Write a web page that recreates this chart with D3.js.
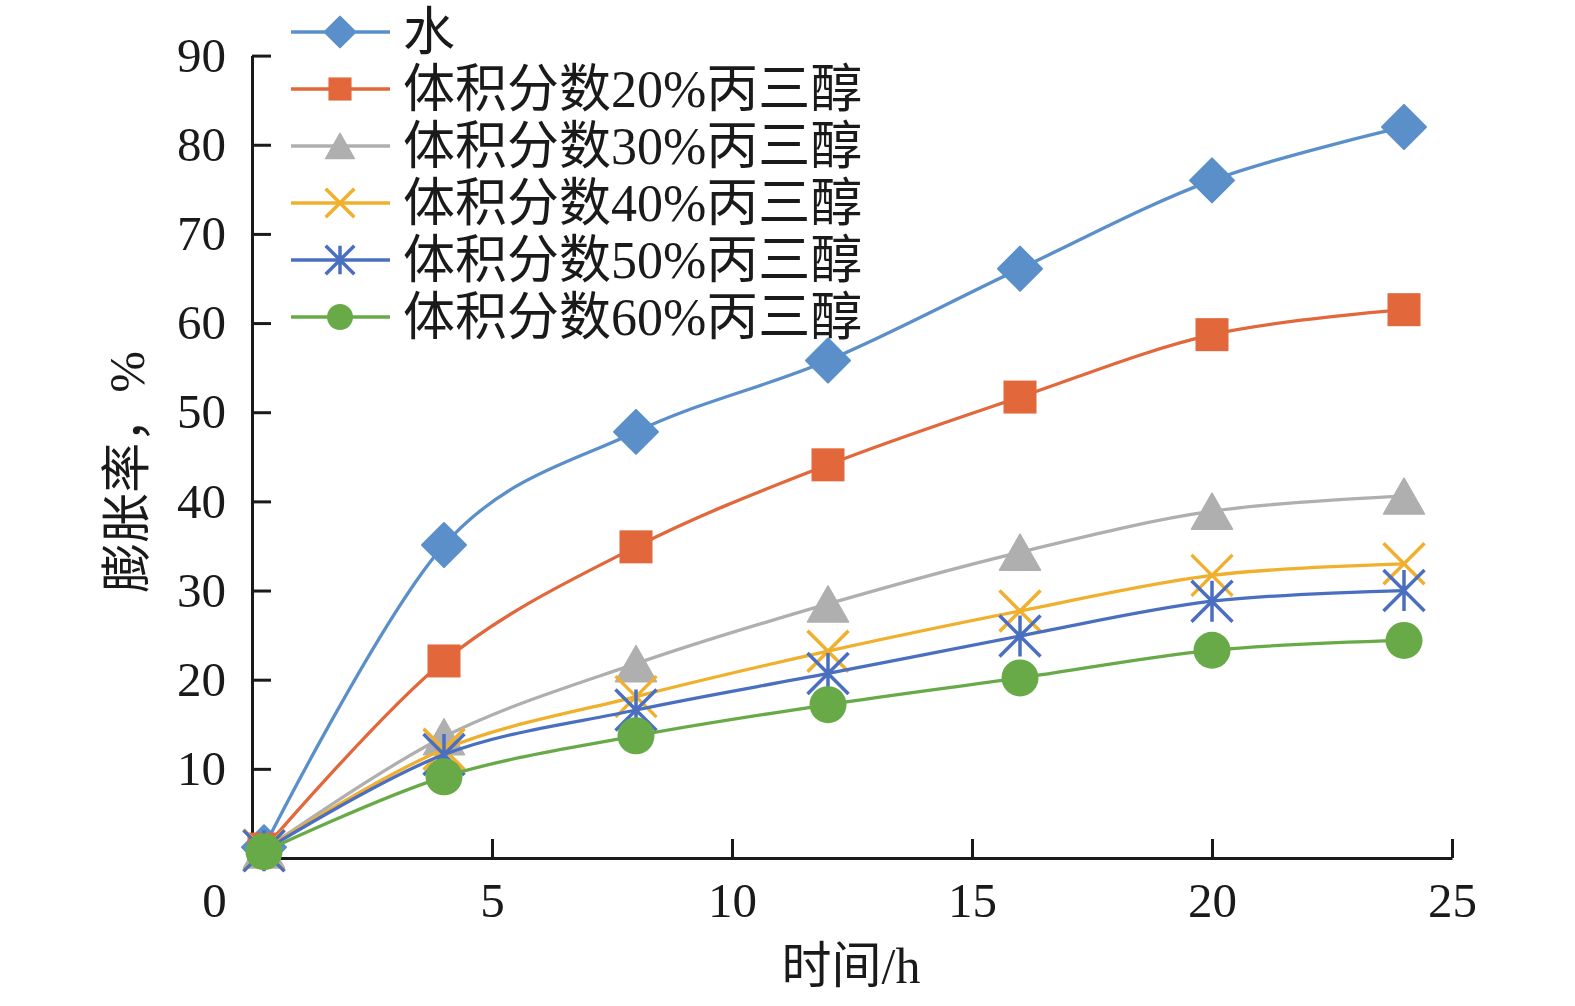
<!DOCTYPE html>
<html>
<head>
<meta charset="utf-8">
<script src="https://cdn.jsdelivr.net/npm/d3@7"></script>
<style>
  body { margin: 0; background: #fff; }
  text { font-family: "Liberation Serif", "Noto Sans CJK SC", serif; fill: #1a1a1a; }
  .ejes path, .ejes line { stroke: #1a1a1a; stroke-width: 3; }
</style>
</head>
<body>
<div id="graf"></div>
<script>
// Datos
const tiempos = [0.25, 4, 8, 12, 16, 20, 24]
const agua = [1.2, 35.1, 47.8, 55.8, 66.1, 76.0, 82.0]
const glic20 = [1.0, 22.1, 34.9, 44.1, 51.7, 58.7, 61.5]
const glic30 = [0.9, 13.6, 21.8, 28.5, 34.3, 38.9, 40.6]
const glic40 = [0.9, 12.2, 18.1, 23.2, 27.7, 31.7, 33.0]
const glic50 = [0.8, 11.6, 16.6, 20.7, 24.9, 28.8, 30.0]
const glic60 = [0.7, 9.1, 13.7, 17.2, 20.2, 23.3, 24.4]
const nombres = ["水", "体积分数20%丙三醇", "体积分数30%丙三醇", "体积分数40%丙三醇", "体积分数50%丙三醇", "体积分数60%丙三醇"]
const xTicks = [0, 5, 10, 15, 20, 25]
const yTicks = [10, 20, 30, 40, 50, 60, 70, 80, 90]

const valores = [agua, glic20, glic30, glic40, glic50, glic60]
const colores = ["#5b8fc9", "#e2673a", "#afafaf", "#f0b02e", "#4a6fc1", "#67aa47"]
const marcas = ["diamond", "square", "triangle", "x", "star", "circle"]

const series = nombres.map((n, i) => ({
  nombre: n,
  color: colores[i],
  marca: marcas[i],
  puntos: tiempos.map((t, j) => ({ t: t, v: valores[i][j] })),
}))

const anchoTotal = 1575
const altoTotal = 1006

const svg = d3
  .select("#graf")
  .append("svg")
  .attr("width", anchoTotal)
  .attr("height", altoTotal)

// Escaladores
const x = d3.scaleLinear().domain([0, 25]).range([252, 1452])
const y = d3.scaleLinear().domain([0, 90]).range([858, 55.6])

// Ejes
const xAxis = d3.axisBottom(x).tickValues(xTicks).tickSizeInner(-19).tickSizeOuter(0).tickPadding(24)
const xAxisGroup = svg
  .append("g")
  .attr("class", "ejes")
  .attr("transform", `translate(0, ${y(0)})`)
  .call(xAxis)

const yAxis = d3.axisLeft(y).tickValues(yTicks).tickSizeInner(-19).tickSizeOuter(0).tickPadding(26)
const yAxisGroup = svg
  .append("g")
  .attr("class", "ejes")
  .attr("transform", `translate(${x(0)}, 0)`)
  .call(yAxis)

svg.selectAll(".ejes text").attr("font-size", 49).attr("font-family", null).attr("fill", "#1a1a1a")
xAxisGroup
  .selectAll(".tick")
  .filter((d) => d === 0)
  .select("text")
  .attr("x", -38)

// Titulos
svg
  .append("text")
  .attr("x", 851)
  .attr("y", 966)
  .attr("text-anchor", "middle")
  .attr("dominant-baseline", "central")
  .attr("font-size", 50)
  .text("时间/h")

svg
  .append("text")
  .attr("transform", "translate(127, 472) rotate(-90)")
  .attr("text-anchor", "middle")
  .attr("dominant-baseline", "central")
  .attr("font-size", 50)
  .text("膨胀率，%")

// Marcadores
const dibujarMarca = (sel, tipo, color, k) => {
  if (tipo === "diamond") {
    const h = 22 * k
    sel.append("path")
      .attr("d", `M0,${-h}L${h},0L0,${h}L${-h},0Z`)
      .attr("fill", color).attr("stroke", color).attr("stroke-width", 2).attr("stroke-linejoin", "round")
  } else if (tipo === "square") {
    const h = 16.5 * k
    sel.append("rect")
      .attr("x", -h).attr("y", -h).attr("width", 2 * h).attr("height", 2 * h)
      .attr("fill", color)
  } else if (tipo === "triangle") {
    const w = 20.5 * k
    const h = 18 * k
    sel.append("path")
      .attr("d", `M0,${-h}L${w},${h}L${-w},${h}Z`)
      .attr("fill", color).attr("stroke", color).attr("stroke-width", 1.5).attr("stroke-linejoin", "round")
  } else if (tipo === "circle") {
    sel.append("circle").attr("r", 18.5 * k).attr("fill", color)
  } else {
    const h = 20.5 * k
    let d = `M${-h},${-h}L${h},${h}M${h},${-h}L${-h},${h}`
    if (tipo === "star") d += `M0,${-h}L0,${h}`
    sel.append("path")
      .attr("d", d)
      .attr("fill", "none").attr("stroke", color).attr("stroke-width", 3.5)
  }
}

// Lineas
const linea = d3
  .line()
  .x((d) => x(d.t))
  .y((d) => y(d.v))
  .curve(d3.curveCardinal.tension(0))

series.forEach((s) => {
  const gS = svg.append("g")
  gS.append("path")
    .attr("d", linea(s.puntos))
    .attr("fill", "none")
    .attr("stroke", s.color)
    .attr("stroke-width", 3.3)
  gS.selectAll("g.marca")
    .data(s.puntos)
    .join("g")
    .attr("class", "marca")
    .attr("transform", (d) => `translate(${x(d.t)}, ${y(d.v)})`)
    .each(function () {
      dibujarMarca(d3.select(this), s.marca, s.color, 1)
    })
})

// Leyenda
const leyenda = svg
  .selectAll("g.leyenda")
  .data(series)
  .join("g")
  .attr("class", "leyenda")
  .attr("transform", (d, i) => `translate(291, ${32 + i * 57})`)

leyenda
  .append("line")
  .attr("x1", 0)
  .attr("x2", 99)
  .attr("stroke", (d) => d.color)
  .attr("stroke-width", 3.3)

leyenda.each(function (d) {
  const m = d3.select(this).append("g").attr("transform", "translate(49, 0)")
  dibujarMarca(m, d.marca, d.color, 0.7)
})

leyenda
  .append("text")
  .attr("x", 112)
  .attr("y", 0)
  .attr("dominant-baseline", "central")
  .attr("font-size", 52)
  .text((d) => d.nombre)
</script>
</body>
</html>
